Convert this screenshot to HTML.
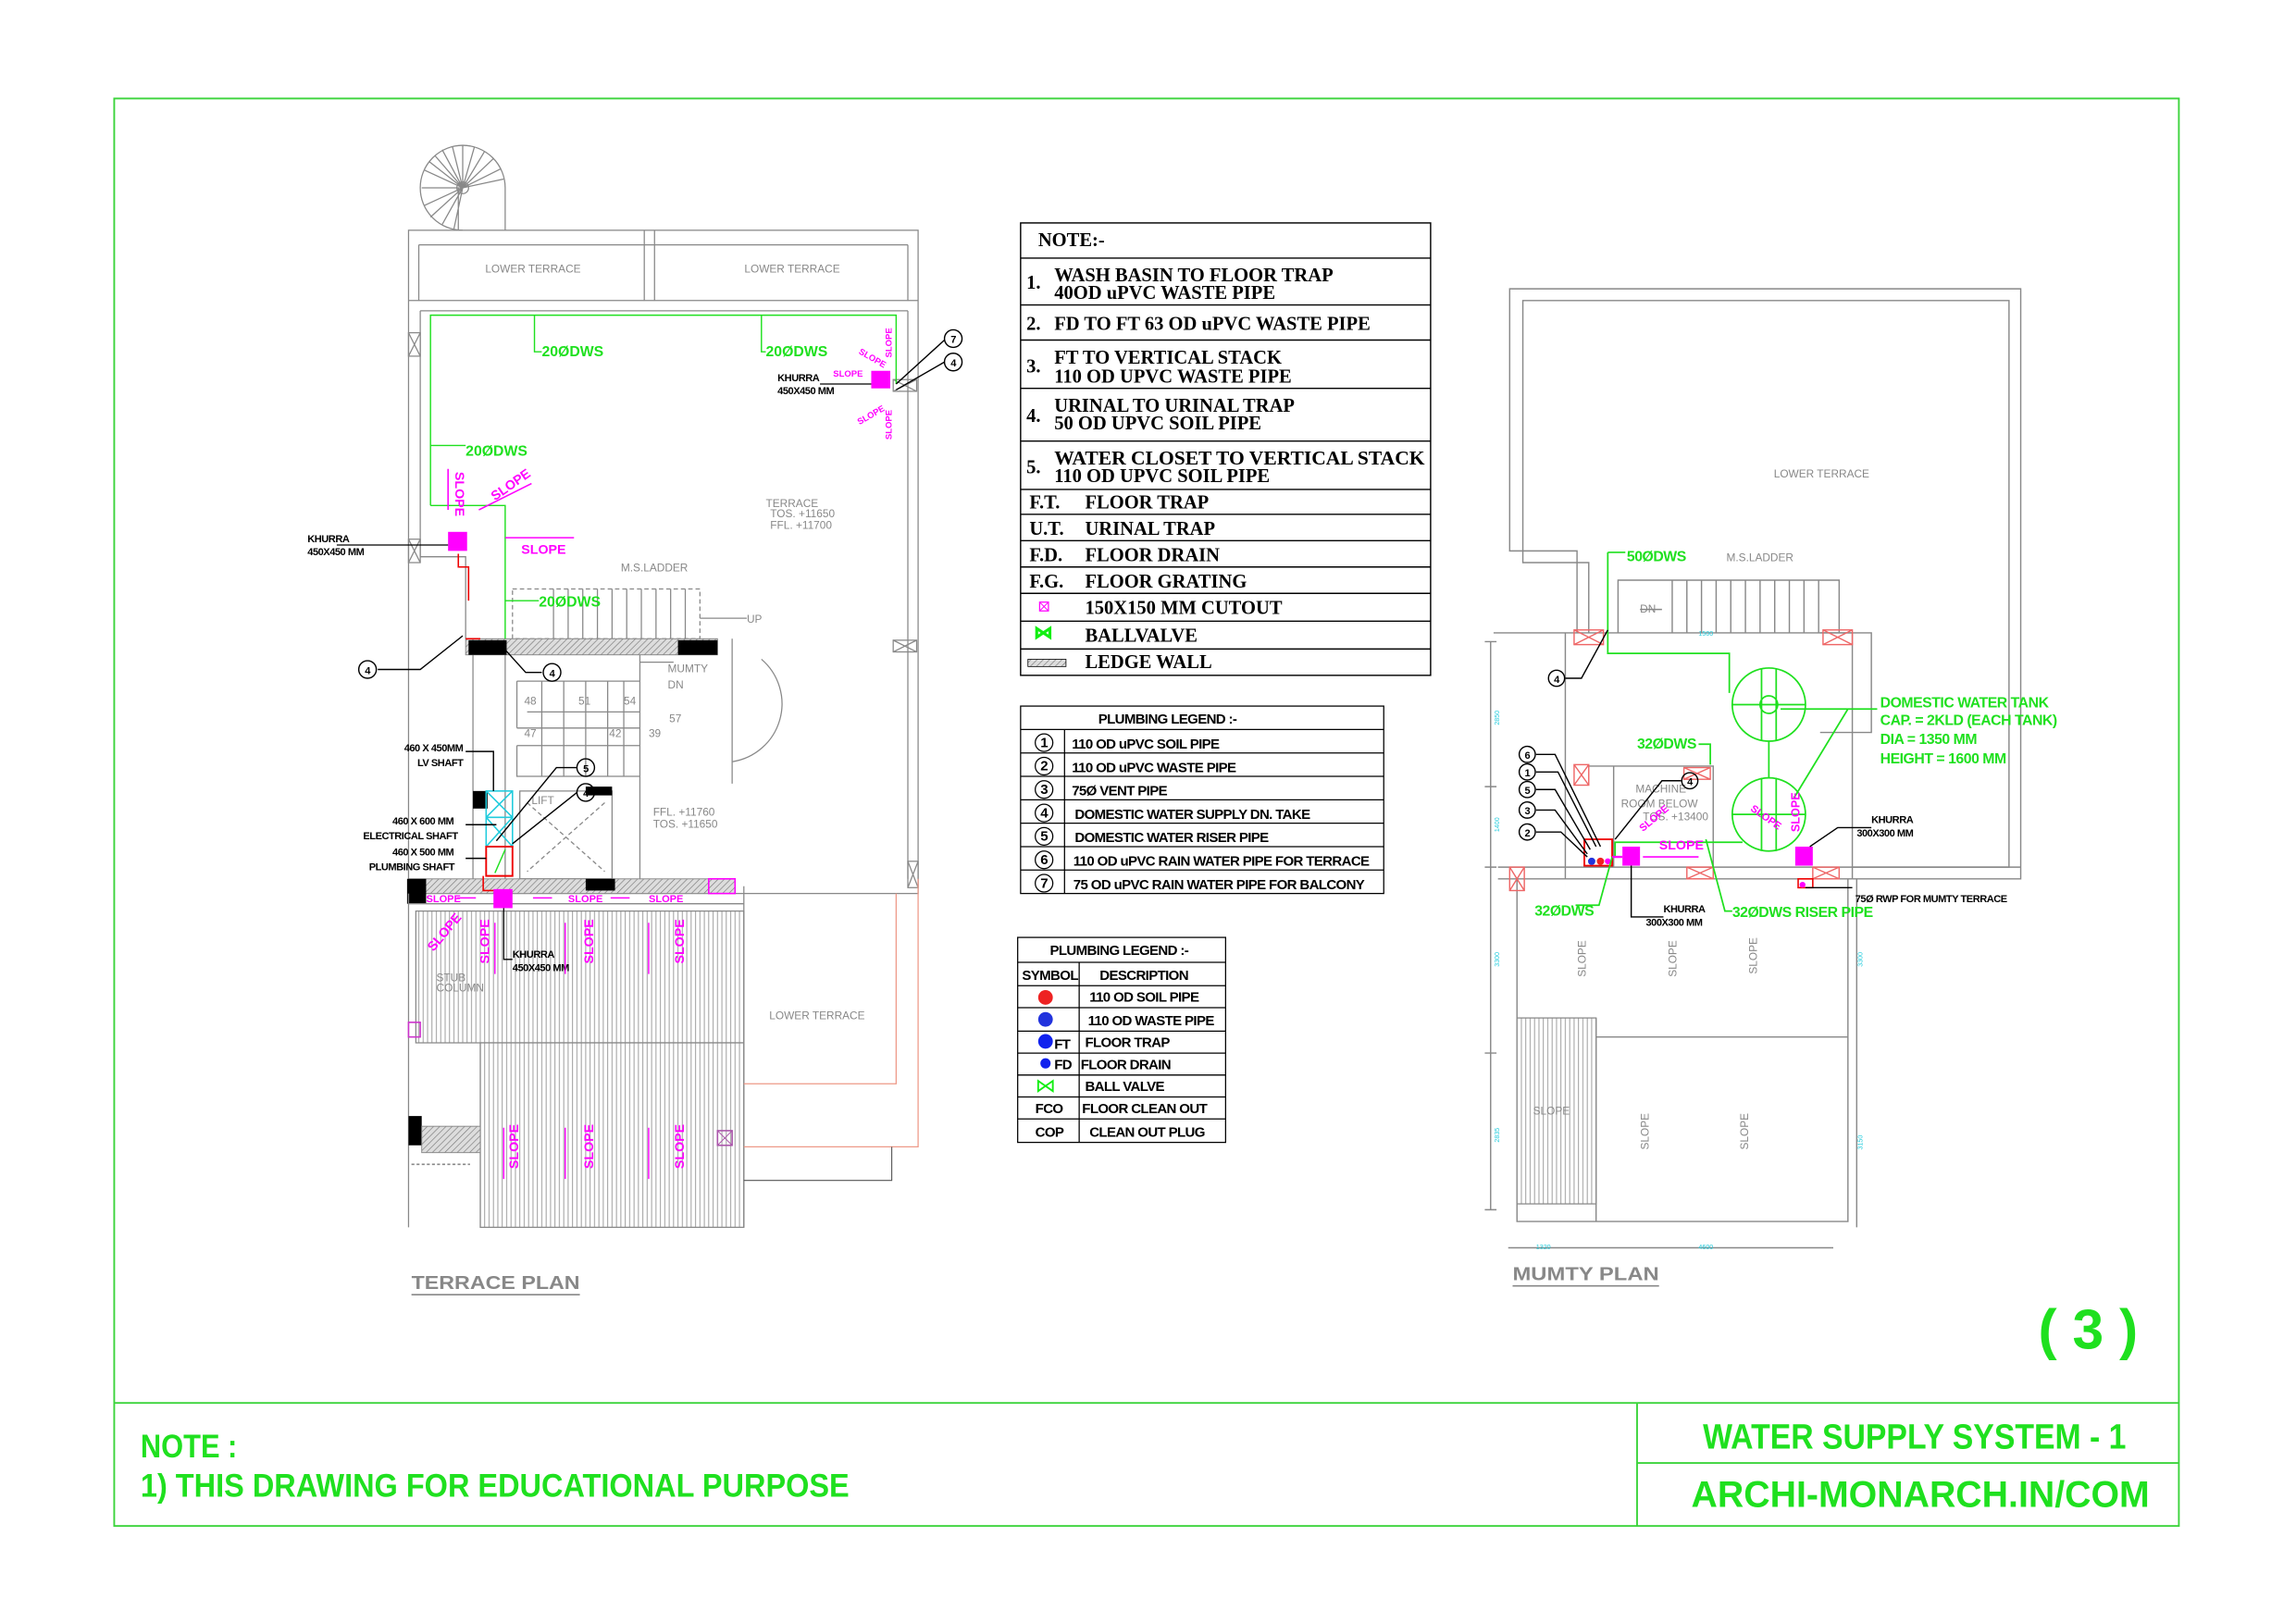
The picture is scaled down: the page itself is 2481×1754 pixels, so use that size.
<!DOCTYPE html>
<html><head><meta charset="utf-8"><style>
html,body{margin:0;padding:0;background:#fff}
svg{display:block}
text{font-family:"Liberation Sans",sans-serif}
.ser{font-family:"Liberation Serif",serif;font-weight:bold;font-size:13px;fill:#000}
.lg{font-weight:bold;font-size:9.5px;fill:#000;letter-spacing:-0.4px}
.g{fill:#1fe01f;font-weight:bold}
.m{fill:#ff00ff;font-weight:bold;font-size:8px}
.gr{fill:#888;font-size:7.5px}
.bk{fill:#000;font-weight:bold;font-size:7px;letter-spacing:-0.3px}
</style></head><body>
<svg width="2481" height="1754" viewBox="0 0 1568 1108" xmlns="http://www.w3.org/2000/svg">
<defs>
<pattern id="vh" width="3" height="10" patternUnits="userSpaceOnUse"><rect width="3" height="10" fill="#fff"/><line x1="1" y1="0" x2="1" y2="10" stroke="#999" stroke-width="0.6"/></pattern>
<pattern id="dh" width="3" height="3" patternUnits="userSpaceOnUse" patternTransform="rotate(45)"><rect width="3" height="3" fill="#ddd"/><line x1="0" y1="0" x2="0" y2="3" stroke="#777" stroke-width="0.8"/></pattern>
</defs>
<!-- Border -->
<g fill="none" stroke="#3cd43c" stroke-width="1.2">
<rect x="78" y="67" width="1410" height="975"/>
<line x1="78" y1="958" x2="1488" y2="958"/>
<line x1="1118" y1="958" x2="1118" y2="1042"/>
<line x1="1118" y1="999" x2="1488" y2="999"/>
</g>
<text x="96" y="995" class="g" font-size="22" textLength="66" lengthAdjust="spacingAndGlyphs">NOTE :</text>
<text x="96" y="1022" class="g" font-size="22" textLength="484" lengthAdjust="spacingAndGlyphs">1) THIS DRAWING FOR EDUCATIONAL PURPOSE</text>
<text x="1163" y="989" class="g" font-size="24" textLength="289" lengthAdjust="spacingAndGlyphs">WATER SUPPLY SYSTEM - 1</text>
<text x="1155" y="1029" class="g" font-size="25" textLength="313" lengthAdjust="spacingAndGlyphs">ARCHI-MONARCH.IN/COM</text>
<text x="1392" y="921" class="g" font-size="38" textLength="68" lengthAdjust="spacingAndGlyphs">( 3 )</text>

<!-- NOTE table -->
<g fill="none" stroke="#000" stroke-width="0.9">
<rect x="697" y="152" width="280" height="309"/>
<path d="M697 176H977M697 208H977M697 232H977M697 265H977M697 301H977M697 334H977M697 351H977M697 369H977M697 387H977M697 405H977M697 424H977M697 443H977"/>
</g>
<text x="709" y="168" class="ser">NOTE:-</text>
<text x="701" y="197" class="ser">1.</text><text x="720" y="192" class="ser">WASH BASIN TO FLOOR TRAP</text><text x="720" y="204" class="ser">40OD uPVC WASTE PIPE</text>
<text x="701" y="225" class="ser">2.</text><text x="720" y="225" class="ser">FD TO FT 63 OD uPVC WASTE PIPE</text>
<text x="701" y="254" class="ser">3.</text><text x="720" y="248" class="ser">FT TO VERTICAL STACK</text><text x="720" y="261" class="ser">110 OD UPVC WASTE PIPE</text>
<text x="701" y="288" class="ser">4.</text><text x="720" y="281" class="ser">URINAL  TO URINAL TRAP</text><text x="720" y="293" class="ser">50 OD UPVC SOIL PIPE</text>
<text x="701" y="323" class="ser">5.</text><text x="720" y="317" class="ser" textLength="253" lengthAdjust="spacingAndGlyphs">WATER CLOSET TO VERTICAL STACK</text><text x="720" y="329" class="ser">110 OD UPVC SOIL PIPE</text>
<text x="703" y="347" class="ser">F.T.</text><text x="741" y="347" class="ser">FLOOR TRAP</text>
<text x="703" y="365" class="ser">U.T.</text><text x="741" y="365" class="ser">URINAL TRAP</text>
<text x="703" y="383" class="ser">F.D.</text><text x="741" y="383" class="ser">FLOOR DRAIN</text>
<text x="703" y="401" class="ser">F.G.</text><text x="741" y="401" class="ser">FLOOR GRATING</text>
<rect x="710" y="411" width="6" height="6" fill="none" stroke="#f0f" stroke-width="0.8"/><path d="M710 411l6 6M716 411l-6 6" stroke="#f0f" stroke-width="0.6"/>
<text x="741" y="419" class="ser">150X150 MM CUTOUT</text>
<path d="M708 429l9 6v-6l-9 6z" fill="none" stroke="#1e1" stroke-width="2"/>
<text x="741" y="438" class="ser">BALLVALVE</text>
<rect x="702" y="450" width="26" height="5" fill="url(#dh)" stroke="#000" stroke-width="0.5"/>
<text x="741" y="456" class="ser">LEDGE WALL</text>

<!-- Plumbing legend 1 -->
<g fill="none" stroke="#000" stroke-width="0.8">
<rect x="697" y="482" width="248" height="128"/>
<path d="M697 498H945M697 514H945M697 530H945M697 546H945M697 562H945M697 578H945M697 594H945M727 498V610"/>
<circle cx="713" cy="507" r="6"/><circle cx="713" cy="523" r="6"/><circle cx="713" cy="539" r="6"/><circle cx="713" cy="555" r="6"/><circle cx="713" cy="571" r="6"/><circle cx="713" cy="587" r="6"/><circle cx="713" cy="603" r="6"/>
</g>
<text x="750" y="494" class="lg">PLUMBING LEGEND :-</text>
<g class="lg" text-anchor="middle"><text x="713" y="510">1</text><text x="713" y="526">2</text><text x="713" y="542">3</text><text x="713" y="558">4</text><text x="713" y="574">5</text><text x="713" y="590">6</text><text x="713" y="606">7</text></g>
<text x="732" y="511" class="lg">110 OD uPVC SOIL PIPE</text>
<text x="732" y="527" class="lg">110 OD uPVC WASTE PIPE</text>
<text x="732" y="543" class="lg">75Ø VENT PIPE</text>
<text x="734" y="559" class="lg">DOMESTIC WATER SUPPLY DN. TAKE</text>
<text x="734" y="575" class="lg">DOMESTIC WATER RISER PIPE</text>
<text x="733" y="591" class="lg">110 OD uPVC RAIN WATER PIPE FOR TERRACE</text>
<text x="733" y="607" class="lg">75 OD uPVC RAIN WATER PIPE FOR BALCONY</text>

<!-- Plumbing legend 2 -->
<g fill="none" stroke="#000" stroke-width="0.8">
<rect x="695" y="640" width="142" height="140"/>
<path d="M695 657H837M695 673H837M695 688H837M695 704H837M695 719H837M695 734H837M695 749H837M695 764H837M737 657V780"/>
</g>
<text x="717" y="652" class="lg">PLUMBING LEGEND :-</text>
<text x="698" y="669" class="lg">SYMBOL</text><text x="751" y="669" class="lg">DESCRIPTION</text>
<circle cx="714" cy="681" r="5" fill="#e22"/><circle cx="714" cy="696" r="5" fill="#23d"/>
<circle cx="714" cy="711" r="5" fill="#12e"/><circle cx="714" cy="726" r="3.5" fill="#12e"/>
<path d="M709 738l10 7v-7l-10 7z" fill="none" stroke="#1e1" stroke-width="1.2"/>
<text x="744" y="684" class="lg">110 OD  SOIL PIPE</text>
<text x="743" y="700" class="lg">110 OD  WASTE PIPE</text>
<text x="720" y="716" class="lg">FT</text><text x="741" y="715" class="lg">FLOOR TRAP</text>
<text x="720" y="730" class="lg">FD</text><text x="738" y="730" class="lg">FLOOR DRAIN</text>
<text x="741" y="745" class="lg">BALL VALVE</text>
<text x="707" y="760" class="lg">FCO</text><text x="739" y="760" class="lg">FLOOR CLEAN OUT</text>
<text x="707" y="776" class="lg">COP</text><text x="744" y="776" class="lg">CLEAN OUT PLUG</text>

<!-- ================= TERRACE PLAN ================= -->
<g fill="none" stroke="#888" stroke-width="0.8">
<path d="M316 157A29 29 0 1 1 345 128"/><circle cx="316" cy="128" r="4"/>
<path d="M316 128L288 128M316 128L290 116M316 128L293 110M316 128L297 106M316 128L302 102M316 128L309 100M316 128L316 99M316 128L324 100M316 128L331 103M316 128L337 108M316 128L342 115M316 128L344 122M316 128L290 140M316 128L294 148M316 128L302 153M316 128L310 156M313 128V157M345 128V157"/>
<rect x="279" y="157" width="348" height="453"/>
<path d="M286 167H620M286 167V205M620 167V205M279 205H627M287 212H620M287 212V380M620 212V600M440 157V205M447 157V205"/>
<path d="M287 380H318V436M345 436V600"/>
<rect x="279" y="227" width="8" height="16"/><path d="M279 227l8 16M287 227l-8 16"/>
<rect x="279" y="368" width="8" height="16"/><path d="M279 368l8 16M287 368l-8 16"/>
<rect x="610" y="437" width="16" height="8"/><path d="M610 437l16 8M626 437l-16 8"/>
<rect x="620" y="588" width="7" height="18"/><path d="M620 588l7 18M627 588l-7 18"/>
<rect x="610" y="259" width="16" height="8"/><path d="M610 259l16 8M626 259l-16 8"/>
<!-- ladder -->
<rect x="350" y="402" width="128" height="34" stroke-dasharray="3 2"/>
<path d="M378 402V436M388 402V436M398 402V436M408 402V436M418 402V436M428 402V436M438 402V436M448 402V436M458 402V436M468 402V436"/>
<path d="M478 422H510"/>
<!-- mumty stair -->
<path d="M323 447V600M437 447V600M353 465H437M353 497H437M353 465V497M353 509H437M353 509V530H437"/>
<path d="M370 465V530M385 465V530M400 465V530M415 465V530M426 465V530M360 486H437"/>
<path d="M437 452H460M500 436V535M520 450A40 40 0 0 1 500 520"/>
<path d="M355 540H418V600H355Z"/><path d="M360 548L413 595M413 548L360 595" stroke-dasharray="3 2"/>
</g>
<text x="364" y="186" class="gr" text-anchor="middle">LOWER TERRACE</text>
<text x="541" y="186" class="gr" text-anchor="middle">LOWER TERRACE</text>
<text x="523" y="346" class="gr">TERRACE</text><text x="526" y="353" class="gr" font-size="5.5">TOS. +11650</text><text x="526" y="361" class="gr" font-size="5.5">FFL. +11700</text>
<text x="424" y="390" class="gr" font-size="6.5">M.S.LADDER</text>
<text x="510" y="425" class="gr" font-size="6.5">UP</text>
<text x="456" y="459" class="gr" font-size="6.5">MUMTY</text><text x="456" y="470" class="gr" font-size="6.5">DN</text>
<g class="gr" font-size="7"><text x="358" y="481">48</text><text x="395" y="481">51</text><text x="426" y="481">54</text><text x="457" y="493">57</text><text x="358" y="503">47</text><text x="416" y="503">42</text><text x="443" y="503">39</text></g>
<text x="446" y="557" class="gr" font-size="5.5">FFL. +11760</text><text x="446" y="565" class="gr" font-size="5.5">TOS. +11650</text>
<text x="363" y="549" class="gr">LIFT</text>
<!-- walls -->
<rect x="318" y="436" width="172" height="11" fill="url(#dh)" stroke="#888" stroke-width="0.6"/>
<rect x="320" y="437" width="26" height="10" fill="#000"/><rect x="463" y="437" width="27" height="10" fill="#000"/>
<rect x="279" y="600" width="211" height="10" fill="url(#dh)" stroke="#888" stroke-width="0.6"/>
<rect x="278" y="600" width="13" height="17" fill="#000"/><rect x="400" y="600" width="20" height="8" fill="#000"/>
<rect x="323" y="540" width="10" height="12" fill="#000"/><rect x="400" y="537" width="18" height="6" fill="#000"/>
<rect x="484" y="600" width="18" height="10" fill="url(#dh)" stroke="#f0f" stroke-width="1"/>
<!-- shafts -->
<g fill="none" stroke="#2cd" stroke-width="1"><rect x="332" y="540" width="18" height="38"/><path d="M332 540l18 18M350 540l-18 18M332 558l18 20M350 558l-18 20M332 558H350"/></g>
<path d="M332 578H350V598H332Z" fill="none" stroke="#e00" stroke-width="1.2"/>
<!-- green pipes -->
<g fill="none" stroke="#1fe01f" stroke-width="0.9">
<path d="M294 345V215H612V262M365 215V240H370M520 215V240H523M294 304H318M294 345H345V436M345 410H368M338 596L345 580"/>
</g>
<g class="g" font-size="10"><text x="370" y="243">20ØDWS</text><text x="523" y="243">20ØDWS</text><text x="318" y="311">20ØDWS</text><text x="368" y="414">20ØDWS</text></g>
<path d="M313 378V387H320V410M318 436h10M330 598V608H345" fill="none" stroke="#e00" stroke-width="1"/>
<!-- khurra -->
<rect x="306" y="363" width="13" height="13" fill="#f0f"/>
<rect x="595" y="253" width="13" height="12" fill="#f0f"/>
<path d="M230 372H306M560 262H595" stroke="#000" stroke-width="0.8"/>
<text x="210" y="370" class="bk" font-size="8">KHURRA</text><text x="210" y="379" class="bk" font-size="8">450X450 MM</text>
<text x="531" y="260" class="bk" font-size="8">KHURRA</text><text x="531" y="269" class="bk" font-size="8">450X450 MM</text>
<!-- slope labels -->
<g class="m">
<text x="356" y="378" font-size="9">SLOPE</text><path d="M345 367H392" stroke="#f0f"/>
<text transform="translate(311,322) rotate(90)" font-size="9">SLOPE</text><path d="M306 320V348" stroke="#f0f"/>
<text transform="translate(338,342) rotate(-35)" font-size="9">SLOPE</text><path d="M327 348L363 330" stroke="#f0f"/>
<text x="569" y="257" font-size="6">SLOPE</text>
<text transform="translate(586,241) rotate(30)" font-size="6">SLOPE</text>
<text transform="translate(587,290) rotate(-30)" font-size="6">SLOPE</text>
<text transform="translate(609,244) rotate(-90)" font-size="6">SLOPE</text>
<text transform="translate(609,300) rotate(-90)" font-size="6">SLOPE</text>
</g>
<!-- callouts -->
<g fill="none" stroke="#000" stroke-width="0.9">
<path d="M258 457H287L316 434M370 459H359L340 438M612 262L645 232M612 266L645 247M394 524H380L339 574M394 541L350 576"/>
<circle cx="251" cy="457" r="6"/><circle cx="377" cy="459" r="6"/><circle cx="400" cy="524" r="6"/><circle cx="400" cy="541" r="6"/><circle cx="651" cy="231" r="6"/><circle cx="651" cy="247" r="6"/>
<path d="M318 513H337V540M318 563H339M318 586H332"/>
</g>
<g class="bk" text-anchor="middle" font-size="8"><text x="251" y="460">4</text><text x="377" y="462">4</text><text x="400" y="527">5</text><text x="400" y="544">4</text><text x="651" y="234">7</text><text x="651" y="250">4</text></g>
<text x="276" y="513" class="bk">460 X 450MM</text><text x="285" y="523" class="bk">LV SHAFT</text>
<text x="268" y="563" class="bk">460 X 600 MM</text><text x="248" y="573" class="bk">ELECTRICAL SHAFT</text>
<text x="268" y="584" class="bk">460 X 500 MM</text><text x="252" y="594" class="bk">PLUMBING SHAFT</text>
<!-- lower slab -->
<rect x="284" y="622" width="224" height="90" fill="url(#vh)" stroke="#888" stroke-width="0.8"/>
<rect x="328" y="712" width="180" height="126" fill="url(#vh)" stroke="#888" stroke-width="0.8"/>
<path d="M279 610V838M279 617H508V838M508 605V622" fill="none" stroke="#888" stroke-width="0.8"/>
<rect x="279" y="762" width="9" height="20" fill="#000"/>
<rect x="288" y="769" width="40" height="18" fill="url(#dh)" stroke="#888" stroke-width="0.6"/>
<path d="M281 795h40" stroke="#888" stroke-dasharray="2 1.5"/>
<rect x="279" y="698" width="8" height="10" fill="none" stroke="#c3c"/>
<rect x="490" y="772" width="10" height="10" fill="none" stroke="#a5a"/><path d="M490 772l10 10M500 772l-10 10" stroke="#a5a" stroke-width="0.6"/>
<rect x="337" y="607" width="13" height="13" fill="#f0f"/>
<path d="M344 620V655H350" stroke="#000" stroke-width="0.8" fill="none"/>
<text x="350" y="654" class="bk" font-size="8">KHURRA</text><text x="350" y="663" class="bk" font-size="8">450X450 MM</text>
<text x="298" y="670" class="gr" font-size="5">STUB</text><text x="298" y="677" class="gr" font-size="5">COLUMN</text>
<g class="m">
<text x="291" y="616" font-size="7">SLOPE</text><text x="388" y="616" font-size="7">SLOPE</text><text x="443" y="616" font-size="7">SLOPE</text>
<text transform="translate(296,650) rotate(-50)" font-size="9">SLOPE</text>
<text transform="translate(334,658) rotate(-90)" font-size="9">SLOPE</text>
<text transform="translate(405,658) rotate(-90)" font-size="9">SLOPE</text>
<text transform="translate(467,658) rotate(-90)" font-size="9">SLOPE</text>
<text transform="translate(354,798) rotate(-90)" font-size="9">SLOPE</text>
<text transform="translate(405,798) rotate(-90)" font-size="9">SLOPE</text>
<text transform="translate(467,798) rotate(-90)" font-size="9">SLOPE</text>
</g>
<g stroke="#f0f" stroke-width="0.9"><path d="M338 630V665M386 630V665M443 630V665M344 770V805M386 770V805M443 770V805M312 613H325M364 613H377M417 613H430"/></g>
<path d="M508 740H612V610M508 783H627V600" fill="none" stroke="#e98" stroke-width="0.8"/>
<path d="M508 806H609V783" fill="none" stroke="#555" stroke-width="0.7"/>
<text x="558" y="696" class="gr" text-anchor="middle">LOWER TERRACE</text>
<text x="281" y="880" fill="#888" font-weight="bold" font-size="13" textLength="115" lengthAdjust="spacingAndGlyphs">TERRACE PLAN</text>
<path d="M281 884H396" stroke="#888"/>

<!-- ================= MUMTY PLAN ================= -->
<g fill="none" stroke="#888" stroke-width="0.9">
<path d="M1077 432V376H1031V197H1380V600H1265"/>
<path d="M1085 432V384H1040V205H1372V592H1265"/>
<path d="M1020 432H1265V600M1069 432V600M1023 592H1380M1023 600H1265"/>
<path d="M1105 432V396H1256V432M1142 396V432M1152 396V432M1162 396V432M1172 396V432M1182 396V432M1192 396V432M1202 396V432M1212 396V432M1222 396V432M1232 396V432M1242 396V432"/>
<path d="M1243 432H1278V500H1243"/>
<path d="M1084 523H1170V592M1102 523V592"/>
<path d="M1036 600V834H1262V600M1090 708H1262M1090 695V834"/>
<path d="M1018 438V826M1014 438H1022M1014 537H1022M1014 592H1022M1014 719H1022M1014 826H1022M1268 600V838M1030 852H1252"/>
<path d="M1120 416H1135"/>
</g>
<rect x="1036" y="695" width="54" height="127" fill="url(#vh)" stroke="#888" stroke-width="0.8"/>
<g fill="none" stroke="#e66" stroke-width="0.9">
<rect x="1075" y="430" width="20" height="10"/><path d="M1075 430l20 10M1095 430l-20 10"/>
<rect x="1245" y="430" width="20" height="10"/><path d="M1245 430l20 10M1265 430l-20 10"/>
<rect x="1075" y="522" width="10" height="14"/><path d="M1075 522l10 14M1085 522l-10 14"/>
<rect x="1150" y="524" width="18" height="8"/><path d="M1150 524l18 8M1168 524l-18 8"/>
<rect x="1031" y="592" width="10" height="16"/><path d="M1031 592l10 16M1041 592l-10 16"/>
<rect x="1152" y="592" width="18" height="8"/><path d="M1152 592l18 8M1170 592l-18 8"/>
<rect x="1238" y="592" width="18" height="8"/><path d="M1238 592l18 8M1256 592l-18 8"/>
</g>
<path d="M1082 573H1101V591H1082Z" fill="none" stroke="#e00" stroke-width="1.2"/>
<circle cx="1087" cy="588" r="2.5" fill="#23d"/><circle cx="1093" cy="588" r="2.5" fill="#e22"/><circle cx="1098" cy="588" r="2" fill="#f0f"/>
<text x="1244" y="326" class="gr" text-anchor="middle">LOWER TERRACE</text>
<text x="1179" y="383" class="gr" font-size="6.5">M.S.LADDER</text>
<text x="1120" y="418" class="gr" font-size="6">DN</text>
<text x="1117" y="541" class="gr">MACHINE</text><text x="1107" y="551" class="gr">ROOM BELOW</text>
<text x="1122" y="560" class="gr" font-size="5">TOS. +13400</text>
<!-- tanks -->
<g fill="none" stroke="#1fe01f" stroke-width="1.1">
<circle cx="1208" cy="481" r="25"/><circle cx="1208" cy="556" r="25"/>
<path d="M1183 481H1233M1203 456V506M1213 456V506M1183 556H1233M1203 531V581M1213 531V581M1208 506V531"/>
<circle cx="1208" cy="481" r="6"/>
<path d="M1098 377H1110M1098 377V446H1181V473M1160 508H1168V522M1101 585L1092 618H1076M1190 575H1103V585M1165 573L1178 622H1183M1216 484H1262L1225 545M1262 484H1282"/>
</g>
<g class="g" font-size="10" letter-spacing="-0.3"><text x="1111" y="383">50ØDWS</text><text x="1118" y="511">32ØDWS</text><text x="1048" y="625">32ØDWS</text><text x="1183" y="626">32ØDWS RISER PIPE</text>
<text x="1284" y="483">DOMESTIC WATER TANK</text><text x="1284" y="495">CAP. = 2KLD (EACH TANK)</text><text x="1284" y="508">DIA = 1350 MM</text><text x="1284" y="521">HEIGHT = 1600 MM</text></g>
<rect x="1108" y="578" width="12" height="13" fill="#f0f"/><rect x="1226" y="578" width="12" height="13" fill="#f0f"/>
<path d="M1101 585H1108" stroke="#f0f" stroke-width="1.5"/>
<path d="M1228 600H1238V606H1228Z" fill="none" stroke="#e00"/><circle cx="1231" cy="604" r="2" fill="#f0f"/>
<g fill="none" stroke="#000" stroke-width="0.9">
<path d="M1114 591V626H1136M1236 578L1255 565H1278M1233 606H1265"/>
<path d="M1049 515H1062L1093 578M1049 527H1064L1090 578M1049 539H1062L1086 580M1049 553H1062L1084 583M1049 568H1066L1084 585M1069 463H1080L1098 430M1148 533H1135L1103 573"/>
<circle cx="1043" cy="515" r="5.5"/><circle cx="1043" cy="527" r="5.5"/><circle cx="1043" cy="539" r="5.5"/><circle cx="1043" cy="553" r="5.5"/><circle cx="1043" cy="568" r="5.5"/><circle cx="1063" cy="463" r="5.5"/><circle cx="1154" cy="533" r="5.5"/>
</g>
<g class="bk" text-anchor="middle" font-size="8"><text x="1043" y="518">6</text><text x="1043" y="530">1</text><text x="1043" y="542">5</text><text x="1043" y="556">3</text><text x="1043" y="571">2</text><text x="1063" y="466">4</text><text x="1154" y="536">4</text></g>
<text x="1136" y="623" class="bk" font-size="8">KHURRA</text><text x="1124" y="632" class="bk" font-size="8">300X300 MM</text>
<text x="1278" y="562" class="bk" font-size="8">KHURRA</text><text x="1268" y="571" class="bk" font-size="8">300X300 MM</text>
<text x="1267" y="616" class="bk" font-size="8">75Ø RWP FOR MUMTY TERRACE</text>
<g class="m">
<text x="1133" y="580" font-size="9">SLOPE</text><path d="M1122 585H1160" stroke="#f0f"/>
<text transform="translate(1122,568) rotate(-40)" font-size="7">SLOPE</text>
<text transform="translate(1195,553) rotate(35)" font-size="7">SLOPE</text>
<text transform="translate(1229,568) rotate(-90)" font-size="8">SLOPE</text>
</g>
<g class="gr" font-size="9">
<text transform="translate(1083,667) rotate(-90)">SLOPE</text>
<text transform="translate(1145,667) rotate(-90)">SLOPE</text>
<text transform="translate(1200,665) rotate(-90)">SLOPE</text>
<text transform="translate(1126,785) rotate(-90)">SLOPE</text>
<text transform="translate(1194,785) rotate(-90)">SLOPE</text>
<text x="1047" y="761">SLOPE</text>
</g>
<g fill="#2cd" font-size="4.5"><text x="1160" y="434">1500</text><text transform="translate(1024,495) rotate(-90)">2850</text><text transform="translate(1024,568) rotate(-90)">1400</text><text transform="translate(1024,660) rotate(-90)">3300</text><text transform="translate(1024,780) rotate(-90)">2835</text><text transform="translate(1272,660) rotate(-90)">3300</text><text transform="translate(1272,785) rotate(-90)">3150</text><text x="1049" y="853">1320</text><text x="1160" y="853">4600</text></g>
<text x="1033" y="874" fill="#888" font-weight="bold" font-size="13" textLength="100" lengthAdjust="spacingAndGlyphs">MUMTY PLAN</text>
<path d="M1033 878H1133" stroke="#888"/>
</svg>
</body></html>
